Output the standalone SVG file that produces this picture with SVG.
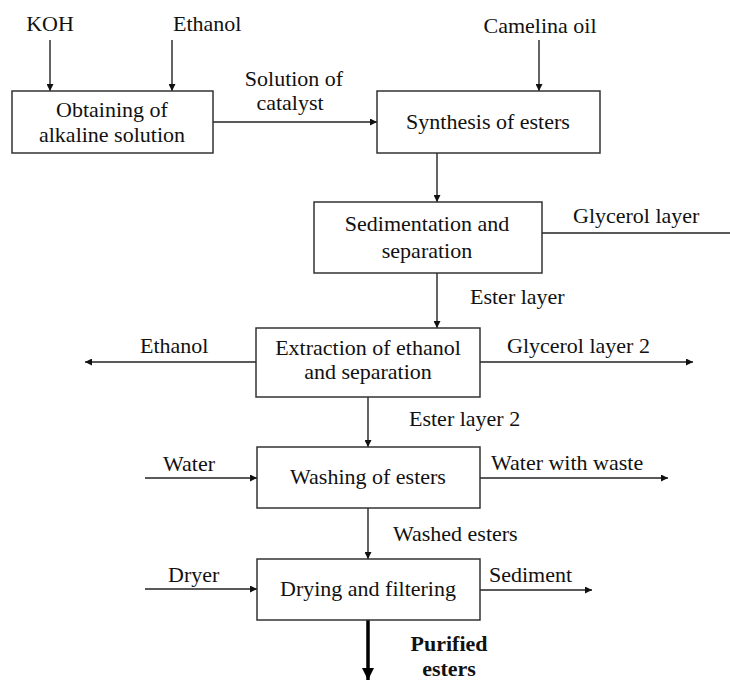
<svg xmlns="http://www.w3.org/2000/svg" width="730" height="680" viewBox="0 0 730 680">
<style>
text{font-family:"Liberation Serif","Times New Roman",serif;font-size:22px;fill:#111}
.c{text-anchor:middle}
.b{font-weight:bold}
.box{fill:#fff;stroke:#333;stroke-width:1.5}
.ln{stroke:#222;stroke-width:1.4;fill:none}
.thick{stroke:#000;stroke-width:3.5;fill:none}
</style>
<defs>
<marker id="ah" viewBox="0 0 10 10" refX="10" refY="5" markerWidth="9" markerHeight="7" markerUnits="userSpaceOnUse" orient="auto">
<path d="M0,0 L10,5 L0,10 z" fill="#111"/>
</marker>
<marker id="ahb" viewBox="0 0 10 10" refX="10" refY="5" markerWidth="18" markerHeight="12" markerUnits="userSpaceOnUse" orient="auto">
<path d="M0,0 L10,5 L0,10 z" fill="#000"/>
</marker>
</defs>
<rect width="730" height="680" fill="#fff"/>
<g id="connectors">
<line class="ln" x1="50" y1="40" x2="50" y2="91" marker-end="url(#ah)"/>
<line class="ln" x1="172" y1="40" x2="172" y2="91" marker-end="url(#ah)"/>
<line class="ln" x1="539" y1="40" x2="539" y2="91" marker-end="url(#ah)"/>
<line class="ln" x1="213" y1="122" x2="377" y2="122" marker-end="url(#ah)"/>
<line class="ln" x1="437" y1="153" x2="437" y2="202" marker-end="url(#ah)"/>
<line class="ln" x1="542" y1="233" x2="730" y2="233"/>
<line class="ln" x1="437" y1="273" x2="437" y2="328" marker-end="url(#ah)"/>
<line class="ln" x1="256" y1="362" x2="85" y2="362" marker-end="url(#ah)"/>
<line class="ln" x1="480" y1="362" x2="693" y2="362" marker-end="url(#ah)"/>
<line class="ln" x1="368" y1="397" x2="368" y2="447" marker-end="url(#ah)"/>
<line class="ln" x1="145" y1="478" x2="257" y2="478" marker-end="url(#ah)"/>
<line class="ln" x1="480" y1="478" x2="668" y2="478" marker-end="url(#ah)"/>
<line class="ln" x1="368" y1="508" x2="368" y2="559" marker-end="url(#ah)"/>
<line class="ln" x1="145" y1="589" x2="257" y2="589" marker-end="url(#ah)"/>
<line class="ln" x1="480" y1="590" x2="592" y2="590" marker-end="url(#ah)"/>
<line class="thick" x1="368" y1="620" x2="368" y2="680" marker-end="url(#ahb)"/>
</g>
<g id="labels">
<text x="50" y="31" class="c">KOH</text>
<text x="173" y="31">Ethanol</text>
<text x="540" y="33" class="c">Camelina oil</text>
<text x="294" y="86" class="c">Solution of</text>
<text x="290" y="110" class="c">catalyst</text>
<text x="573" y="223">Glycerol layer</text>
<text x="470" y="304">Ester layer</text>
<text x="140" y="353">Ethanol</text>
<text x="507" y="353">Glycerol layer 2</text>
<text x="409" y="426">Ester layer 2</text>
<text x="163" y="471">Water</text>
<text x="491" y="470">Water with waste</text>
<text x="393" y="541">Washed esters</text>
<text x="168" y="582">Dryer</text>
<text x="489" y="582">Sediment</text>
<text x="449" y="651" class="c b">Purified</text>
<text x="449" y="676" class="c b">esters</text>
</g>
<g id="n1"><rect class="box" x="12" y="91" width="201" height="62"/><text x="112" y="117" class="c">Obtaining of</text><text x="112" y="142" class="c">alkaline solution</text></g>
<g id="n2"><rect class="box" x="377" y="91" width="223" height="62"/><text x="488" y="129" class="c">Synthesis of esters</text></g>
<g id="n3"><rect class="box" x="314" y="202" width="228" height="71"/><text x="427" y="231" class="c">Sedimentation and</text><text x="427" y="258" class="c">separation</text></g>
<g id="n4"><rect class="box" x="256" y="328" width="224" height="69"/><text x="368" y="355" class="c">Extraction of ethanol</text><text x="368" y="379" class="c">and separation</text></g>
<g id="n5"><rect class="box" x="257" y="447" width="223" height="61"/><text x="368" y="484" class="c">Washing of esters</text></g>
<g id="n6"><rect class="box" x="257" y="559" width="223" height="61"/><text x="368" y="596" class="c">Drying and filtering</text></g>
</svg>
